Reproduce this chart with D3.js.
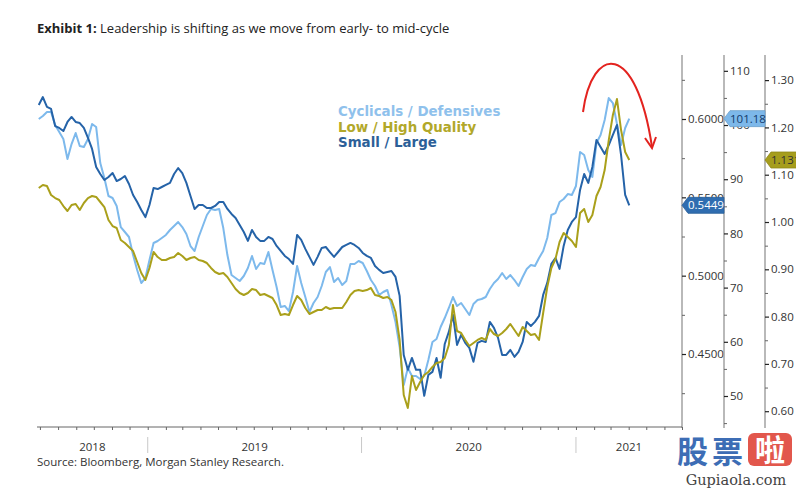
<!DOCTYPE html>
<html><head><meta charset="utf-8">
<script src="https://cdn.jsdelivr.net/npm/d3@7"></script>
<style>body{margin:0;background:#fff}svg{display:block}</style>
</head><body><svg id="c" width="796" height="491"></svg>
<script>
// ---------------- DATA ----------------
const weekEnding = [
"2018-06-29","2018-07-06","2018-07-13","2018-07-20","2018-07-27","2018-08-03","2018-08-10","2018-08-17","2018-08-24","2018-08-31",
"2018-09-07","2018-09-14","2018-09-21","2018-09-28","2018-10-05","2018-10-12","2018-10-19","2018-10-26","2018-11-02","2018-11-09",
"2018-11-16","2018-11-23","2018-11-30","2018-12-07","2018-12-14","2018-12-21","2018-12-28",
"2019-01-04","2019-01-11","2019-01-18","2019-01-25","2019-02-01","2019-02-08","2019-02-15","2019-02-22","2019-03-01","2019-03-08",
"2019-03-15","2019-03-22","2019-03-29","2019-04-05","2019-04-12","2019-04-19","2019-04-26","2019-05-03","2019-05-10","2019-05-17",
"2019-05-24","2019-05-31","2019-06-07","2019-06-14","2019-06-21","2019-06-28","2019-07-05","2019-07-12","2019-07-19","2019-07-26",
"2019-08-02","2019-08-09","2019-08-16","2019-08-23","2019-08-30","2019-09-06","2019-09-13","2019-09-20","2019-09-27","2019-10-04",
"2019-10-11","2019-10-18","2019-10-25","2019-11-01","2019-11-08","2019-11-15","2019-11-22","2019-11-29","2019-12-06","2019-12-13",
"2019-12-20","2019-12-27",
"2020-01-03","2020-01-10","2020-01-17","2020-01-24","2020-01-31","2020-02-07","2020-02-14","2020-02-21","2020-02-28","2020-03-06",
"2020-03-13","2020-03-20","2020-03-27","2020-04-03","2020-04-10","2020-04-17","2020-04-24","2020-05-01","2020-05-08","2020-05-15",
"2020-05-22","2020-05-29","2020-06-05","2020-06-12","2020-06-19","2020-06-26","2020-07-03","2020-07-10","2020-07-17","2020-07-24",
"2020-07-31","2020-08-07","2020-08-14","2020-08-21","2020-08-28","2020-09-04","2020-09-11","2020-09-18","2020-09-25","2020-10-02",
"2020-10-09","2020-10-16","2020-10-23","2020-10-30","2020-11-06","2020-11-13","2020-11-20","2020-11-27","2020-12-04","2020-12-11",
"2020-12-18","2020-12-25",
"2021-01-01","2021-01-08","2021-01-15","2021-01-22","2021-01-29","2021-02-05","2021-02-12","2021-02-19","2021-02-26","2021-03-05",
"2021-03-12","2021-03-19","2021-03-26","2021-04-02"];

// Cyclicals / Defensives (middle right axis)
const cycDef = [
101.11,101.66,102.40,102.40,100.00,98.71,97.42,93.73,96.49,98.52,
96.13,95.94,97.42,100.18,99.63,92.99,90.22,86.90,86.53,85.06,
81.18,80.26,79.34,76.01,73.25,70.85,71.77,75.09,78.23,78.60,
79.15,79.71,80.63,81.37,82.10,81.18,79.89,77.67,76.75,79.34,
81.37,83.40,84.50,84.32,84.50,80.99,76.01,72.32,71.77,71.22,
72.14,73.62,75.83,73.43,74.54,74.35,76.57,73.25,70.11,66.42,
66.61,65.68,69.19,73.99,70.85,68.27,65.50,67.16,68.27,70.30,
72.88,73.80,71.03,71.77,70.48,71.22,74.35,74.35,74.91,74.54,
73.06,71.40,70.30,68.64,69.19,69.56,66.79,63.65,59.04,52.03,
55.17,53.69,53.69,53.14,53.69,56.64,59.96,60.51,62.73,64.39,
66.24,68.27,66.61,67.16,66.05,64.94,66.98,67.71,67.90,68.27,
69.74,70.85,71.59,72.69,71.59,72.32,71.40,70.30,71.96,73.43,
74.17,73.99,75.46,76.75,79.15,83.40,83.76,85.79,86.35,87.27,
87.09,88.75,95.02,94.47,91.70,90.41,96.68,98.15,100.92,104.98,
104.06,100.18,96.31,99.45,101.18];

// Low / High Quality (outer right axis)
const lowHigh = [
1.0719,1.0782,1.0761,1.0571,1.0507,1.0465,1.0338,1.0233,1.0359,1.0381,
1.0254,1.0402,1.0507,1.0550,1.0529,1.0423,1.0317,1.0042,0.9915,0.9873,
0.9619,0.9556,0.9471,0.9387,0.9154,0.8922,0.8774,0.9028,0.9366,0.9260,
0.9197,0.9197,0.9239,0.9260,0.9345,0.9281,0.9197,0.9239,0.9260,0.9197,
0.9176,0.9133,0.9028,0.8943,0.8901,0.8922,0.8837,0.8710,0.8584,0.8499,
0.8457,0.8499,0.8584,0.8562,0.8457,0.8478,0.8436,0.8393,0.8245,0.8034,
0.8055,0.8034,0.8245,0.8436,0.8351,0.8182,0.8055,0.8097,0.8140,0.8140,
0.8203,0.8161,0.8182,0.8182,0.8182,0.8309,0.8457,0.8541,0.8562,0.8541,
0.8562,0.8605,0.8457,0.8436,0.8393,0.8414,0.8351,0.8097,0.7506,0.6343,
0.6068,0.6744,0.6448,0.6618,0.6766,0.6829,0.6935,0.7019,0.7040,0.7125,
0.7400,0.8245,0.7696,0.7653,0.7506,0.7379,0.7442,0.7506,0.7548,0.7506,
0.7738,0.7632,0.7590,0.7653,0.7738,0.7844,0.7717,0.7590,0.7780,0.7696,
0.7611,0.7632,0.7506,0.8076,0.8626,0.9028,0.9218,0.9577,0.9767,0.9683,
0.9598,0.9471,1.0190,1.0275,1.0000,1.0148,1.0550,1.0740,1.1099,1.1733,
1.2262,1.2600,1.1945,1.1480,1.1311];

// Small / Large (inner right axis)
const smallLarge = [
0.6089,0.6140,0.6077,0.6064,0.5955,0.5943,0.5923,0.5981,0.6013,0.5981,
0.5974,0.5943,0.5879,0.5809,0.5694,0.5649,0.5611,0.5630,0.5655,0.5604,
0.5617,0.5636,0.5585,0.5515,0.5470,0.5419,0.5374,0.5451,0.5560,0.5553,
0.5566,0.5579,0.5592,0.5649,0.5687,0.5655,0.5592,0.5509,0.5426,0.5451,
0.5451,0.5432,0.5432,0.5445,0.5470,0.5470,0.5426,0.5394,0.5368,0.5324,
0.5279,0.5222,0.5292,0.5247,0.5222,0.5222,0.5247,0.5234,0.5190,0.5158,
0.5126,0.5106,0.5075,0.5260,0.5228,0.5171,0.5120,0.5069,0.5120,0.5177,
0.5183,0.5151,0.5120,0.5151,0.5183,0.5196,0.5209,0.5196,0.5177,0.5145,
0.5126,0.5113,0.5062,0.5037,0.5017,0.5024,0.5030,0.4992,0.4871,0.4494,
0.4399,0.4475,0.4399,0.4399,0.4233,0.4367,0.4386,0.4475,0.4348,0.4564,
0.4641,0.4750,0.4558,0.4622,0.4571,0.4539,0.4450,0.4571,0.4584,0.4577,
0.4705,0.4667,0.4603,0.4494,0.4494,0.4526,0.4482,0.4513,0.4577,0.4705,
0.4679,0.4705,0.4743,0.4877,0.4954,0.5075,0.5113,0.5043,0.5190,0.5292,
0.5343,0.5374,0.5547,0.5649,0.5592,0.5694,0.5866,0.5821,0.5777,0.5834,
0.5898,0.5962,0.5770,0.5515,0.5449];

const seriesNames = ["Cyclicals / Defensives", "Low / High Quality", "Small / Large"];
const yearLabels = ["2018", "2019", "2020", "2021"];
const slTicks = [0.45, 0.50, 0.55, 0.60];
const slMinor = [0.425, 0.475, 0.525, 0.575, 0.625];
const cdTicks = [50, 60, 70, 80, 90, 100, 110];
const cdMinor = [45, 55, 65, 75, 85, 95, 105];
const lhTicks = [0.6, 0.7, 0.8, 0.9, 1.0, 1.1, 1.2, 1.3];
const lhMinor = [0.65, 0.75, 0.85, 0.95, 1.05, 1.15, 1.25];
const titleBold = "Exhibit 1:";
const titleRest = " Leadership is shifting as we move from early- to mid-cycle";
const sourceText = "Source: Bloomberg, Morgan Stanley Research.";

// ---------------- STYLE ----------------
const C_CD = "#7db9ec", C_LH = "#aaa01b", C_SL = "#2563a8";
const SANS = "'Open Sans', 'Noto Sans', sans-serif";

const svg = d3.select("#c");
svg.append("rect").attr("width", 796).attr("height", 491).attr("fill", "#fff");

const parse = d3.timeParse("%Y-%m-%d");
const dates = weekEnding.map(parse);

const pTop = 55, pBottom = 427, pLeft = 37, pRight = 682;
const x = d3.scaleTime().domain([new Date(2018, 5, 26), new Date(2021, 6, 1)]).range([pLeft, pRight]);
const ySL = d3.scaleLinear().domain([0.40341, 0.64085]).range([pBottom, pTop]);
const yCD = d3.scaleLinear().domain([44.28, 112.92]).range([pBottom, pTop]);
const yLH = d3.scaleLinear().domain([0.5666, 1.3531]).range([pBottom, pTop]);

// Title
const t = svg.append("text").attr("x", 37).attr("y", 33)
  .attr("font-family", SANS).attr("font-size", 13).attr("fill", "#222");
t.append("tspan").attr("font-weight", "bold").text(titleBold);
t.append("tspan").text(titleRest);

// Source
svg.append("text").attr("x", 37).attr("y", 466).attr("font-family", SANS)
  .attr("font-size", 11.5).attr("fill", "#333").text(sourceText);

// Right axes
function rightAxis(xpos, scale, major, minor, fmt) {
  const g = svg.append("g").attr("transform", `translate(${xpos},0)`);
  g.append("line").attr("y1", pTop).attr("y2", pBottom + 1).attr("stroke", "#8a8a8a").attr("stroke-width", 1.2);
  const gm = g.append("g").call(d3.axisRight(scale).tickValues(minor).tickSize(3).tickFormat(""));
  gm.select(".domain").remove();
  gm.selectAll("line").attr("stroke", "#666");
  const ga = g.append("g").call(d3.axisRight(scale).tickValues(major).tickSize(4).tickPadding(2).tickFormat(fmt));
  ga.select(".domain").remove();
  ga.selectAll("line").attr("stroke", "#222").attr("stroke-width", 1.2);
  ga.selectAll("text").attr("font-family", SANS).attr("font-size", 11.5).attr("fill", "#333");
}
rightAxis(682, ySL, slTicks, slMinor, d3.format(".4f"));
rightAxis(724, yCD, cdTicks, cdMinor, d3.format("d"));
rightAxis(765, yLH, lhTicks, lhMinor, d3.format(".2f"));

// X axis
svg.append("line").attr("x1", pLeft).attr("x2", pRight).attr("y1", pBottom).attr("y2", pBottom)
  .attr("stroke", "#666").attr("stroke-width", 1);
const gx = svg.append("g").attr("transform", `translate(0,${pBottom})`)
  .call(d3.axisBottom(x).ticks(d3.timeMonth.every(1)).tickSize(3).tickFormat(""));
gx.select(".domain").remove();
gx.selectAll("line").attr("stroke", "#666");
const yearStarts = d3.timeYear.range(x.domain()[0], x.domain()[1]);
svg.selectAll(".ysep").data(yearStarts).enter().append("line")
  .attr("x1", d => x(d)).attr("x2", d => x(d)).attr("y1", 437).attr("y2", 453)
  .attr("stroke", "#c8c8c8");
svg.selectAll(".ylab").data(yearLabels).enter().append("text")
  .attr("x", d => {
    const a = d3.max([new Date(+d, 0, 1), x.domain()[0]]);
    const b = d3.min([new Date(+d + 1, 0, 1), x.domain()[1]]);
    return (x(a) + x(b)) / 2;
  })
  .attr("y", 451).attr("text-anchor", "middle").attr("font-family", SANS)
  .attr("font-size", 11.5).attr("fill", "#333").text(d => d);

// Lines
function drawLine(vals, scale, color) {
  svg.append("path").datum(vals)
    .attr("d", d3.line().x((d, i) => x(dates[i])).y(d => scale(d)))
    .attr("fill", "none").attr("stroke", color).attr("stroke-width", 2)
    .attr("stroke-linejoin", "round");
}
drawLine(cycDef, yCD, C_CD);
drawLine(smallLarge, ySL, C_SL);
drawLine(lowHigh, yLH, C_LH);

// Legend
const legend = [[seriesNames[0], "#8fc1ec"], [seriesNames[1], "#b2a82a"], [seriesNames[2], "#2c5f98"]];
legend.forEach((d, i) => {
  svg.append("text").attr("x", 338).attr("y", 116 + i * 15.5)
    .attr("font-family", "'DejaVu Sans', Verdana, sans-serif").attr("font-weight", "bold")
    .attr("font-size", 13.4).attr("fill", d[1]).text(d[0]);
});

// Last-value tags
function tag(xpos, yv, label, fill, txt, w) {
  const h = 8;
  svg.append("path").attr("d", `M${xpos},${yv} L${xpos + 6},${yv - h} L${xpos + w},${yv - h} L${xpos + w},${yv + h} L${xpos + 6},${yv + h} Z`)
    .attr("fill", fill).attr("stroke", d3.color(fill).darker(0.4)).attr("stroke-width", 0.8);
  svg.append("text").attr("x", xpos + 6).attr("y", yv + 4).attr("font-family", SANS)
    .attr("font-size", 11.5).attr("fill", txt).text(label);
}
tag(682, ySL(smallLarge[smallLarge.length - 1]), d3.format(".4f")(smallLarge[smallLarge.length - 1]), "#2f6db0", "#fff", 42);
tag(724, yCD(cycDef[cycDef.length - 1]), d3.format(".2f")(cycDef[cycDef.length - 1]), "#7db8ea", "#123a6a", 41);
tag(765, yLH(lowHigh[lowHigh.length - 1]), d3.format(".4f")(lowHigh[lowHigh.length - 1]), "#a69d1c", "#333", 40);

// Red arrow annotation
svg.append("path").attr("d", "M583,112 C592,45 636,40 652,147")
  .attr("fill", "none").attr("stroke", "#e3231f").attr("stroke-width", 2);
svg.append("path").attr("d", "M645,138 L652,148 L656,137")
  .attr("fill", "none").attr("stroke", "#e3231f").attr("stroke-width", 2);

// Watermark
svg.append("text").attr("x", 677).attr("y", 463).attr("font-family", "'Noto Sans CJK SC'")
  .attr("font-weight", "bold").attr("font-size", 31).attr("fill", "#3d6db5").attr("letter-spacing", 4).text("股票");
svg.append("rect").attr("x", 748).attr("y", 433).attr("width", 44).attr("height", 33).attr("rx", 6).attr("fill", "#e2574c");
svg.append("text").attr("x", 770).attr("y", 461).attr("text-anchor", "middle").attr("font-family", "'Noto Sans CJK SC'")
  .attr("font-weight", "bold").attr("font-size", 30).attr("fill", "#fff").text("啦");
svg.append("text").attr("x", 736).attr("y", 485).attr("text-anchor", "middle").attr("font-family", "'DejaVu Serif', serif")
  .attr("font-size", 14.5).attr("fill", "#444").text("Gupiaola.com");
</script>
</body></html>
